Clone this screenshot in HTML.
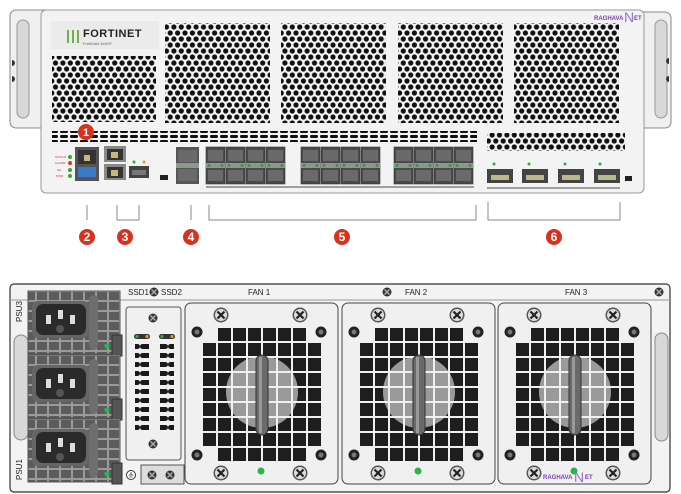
<!DOCTYPE html>
<html><head><meta charset="utf-8"><style>
html,body{margin:0;padding:0;background:#fff;width:681px;height:494px;overflow:hidden}
svg{display:block}
text{font-family:"Liberation Sans",sans-serif}
</style></head><body>
<svg width="681" height="494" viewBox="0 0 681 494" xmlns="http://www.w3.org/2000/svg">
<defs>
<pattern id="hex" width="7.4" height="12" patternUnits="userSpaceOnUse">
<circle cx="3.7" cy="3" r="2.6" fill="#111"/><circle cx="0" cy="9" r="2.6" fill="#111"/><circle cx="7.4" cy="9" r="2.6" fill="#111"/>
</pattern>
<pattern id="dash" width="10" height="5" patternUnits="userSpaceOnUse"><rect x="0" y="0" width="8" height="3" rx="1.2" fill="#111"/></pattern>
<pattern id="sq" x="202" y="327" width="15" height="15" patternUnits="userSpaceOnUse"><rect x="1" y="1" width="13" height="13" fill="#1e1e1e"/></pattern>
<pattern id="sql" x="202" y="327" width="15" height="15" patternUnits="userSpaceOnUse"><rect x="1" y="1" width="13" height="13" fill="#9a9a9a"/></pattern>
<pattern id="psug" width="12" height="10" patternUnits="userSpaceOnUse"><rect width="12" height="10" fill="#9a9a9a"/><rect x="1" y="1" width="10" height="8" fill="#5c5c5c"/></pattern>
<pattern id="slots" width="14" height="9" patternUnits="userSpaceOnUse"><rect x="0" y="2" width="14" height="5" rx="2.5" fill="#1a1a1a"/></pattern>
<g id="bigscrew"><circle r="7.5" fill="#555"/><circle r="6" fill="#ddd"/><path d="M-3.5,-3.5L3.5,3.5M3.5,-3.5L-3.5,3.5" stroke="#222" stroke-width="2.2"/></g>
<g id="smscrew"><circle r="5.5" fill="#222"/><circle r="2.5" fill="#777"/></g>
<g id="tscrew"><circle r="4.5" fill="#333"/><path d="M-2.5,-2.5L2.5,2.5M2.5,-2.5L-2.5,2.5" stroke="#aaa" stroke-width="1.5"/></g>
<g id="fan">
<rect x="185" y="303" width="153" height="181" rx="6" fill="#f0f0f0" stroke="#444" stroke-width="1"/>
<rect x="202" y="342" width="120" height="105" fill="url(#sq)"/>
<rect x="217" y="327" width="90" height="15" fill="url(#sq)"/>
<rect x="217" y="447" width="90" height="15" fill="url(#sq)"/>
<circle cx="262" cy="392" r="36" fill="url(#sql)"/>
<rect x="256" y="355" width="12" height="80" rx="6" fill="#6a6a6a" stroke="#333"/>
<rect x="259" y="357" width="3" height="76" fill="#999"/>
<use href="#bigscrew" x="221" y="315"/><use href="#bigscrew" x="300" y="315"/>
<use href="#bigscrew" x="221" y="473"/><use href="#bigscrew" x="300" y="473"/>
<use href="#smscrew" x="197" y="332"/><use href="#smscrew" x="321" y="332"/>
<use href="#smscrew" x="197" y="455"/><use href="#smscrew" x="321" y="455"/>
<circle cx="261" cy="471" r="3.5" fill="#2db34a"/>
</g>
<g id="psu">
<rect x="28" y="0" width="92" height="63" fill="url(#psug)" stroke="#555"/>
<rect x="32" y="10" width="57" height="37" rx="6" fill="#666"/>
<rect x="36" y="13" width="50" height="31" rx="7" fill="#2a2a2a"/>
<rect x="46" y="24" width="5" height="9" fill="#ddd"/><rect x="58" y="19" width="5" height="9" fill="#ddd"/><rect x="70" y="24" width="5" height="9" fill="#ddd"/>
<circle cx="60" cy="38" r="4" fill="#555"/>
<rect x="89" y="4" width="9" height="55" rx="4.5" fill="#6e6e6e"/>
<rect x="112" y="44" width="10" height="21" fill="#555" stroke="#333"/>
<circle cx="107" cy="55" r="2.5" fill="#2db34a" stroke="#1a6" stroke-width="0.5"/>
</g>
<g id="cage"><rect width="19" height="37" fill="#4a4a4a" stroke="#333" stroke-width="0.6"/><rect x="2" y="3" width="15" height="11" fill="#6a6a6a"/><rect x="2" y="23" width="15" height="11" fill="#6a6a6a"/><rect x="0" y="16" width="19" height="5" fill="#8a9a8a"/><circle cx="3" cy="18.5" r="1.5" fill="#4c8a4c"/><circle cx="16" cy="18.5" r="1.5" fill="#4c8a4c"/></g>
<g id="sfp4"><use href="#cage" x="0"/><use href="#cage" x="20"/><use href="#cage" x="40"/><use href="#cage" x="60"/></g>
<g id="qsfp"><rect width="26" height="14" fill="#444"/><rect x="4" y="6" width="18" height="5" fill="#b8b888"/></g>
</defs>

<!-- TOP UNIT -->
<rect x="10" y="10" width="40" height="118" rx="6" fill="#f0f0f0" stroke="#888"/>
<rect x="17" y="20" width="12" height="98" rx="6" fill="#d8d8d8" stroke="#999"/>
<path d="M12,60 a3,3 0 0 1 0,6z M12,76 a3,3 0 0 1 0,6z" fill="#333"/>
<rect x="636" y="12" width="35" height="116" rx="6" fill="#f0f0f0" stroke="#888"/>
<rect x="655" y="20" width="12" height="98" rx="6" fill="#d8d8d8" stroke="#999"/>
<path d="M669,58 a3,3 0 0 0 0,6z M669,76 a3,3 0 0 0 0,6z" fill="#333"/>
<rect x="41" y="10" width="603" height="183" rx="5" fill="#f3f3f3" stroke="#999"/>
<rect x="51" y="21" width="108" height="28" fill="#ebebeb"/>
<rect x="67" y="30" width="2" height="13" fill="#6bb34a"/><rect x="72" y="30" width="2" height="13" fill="#6bb34a"/><rect x="77" y="30" width="2" height="13" fill="#6bb34a"/>
<text x="83" y="37" font-size="11" font-weight="bold" fill="#222" letter-spacing="0.5">FORTINET</text>
<text x="83" y="45" font-size="4" fill="#666">FortiGate 6x00F</text>
<rect x="52" y="56" width="104" height="66" fill="url(#hex)"/>
<rect x="165" y="23" width="105" height="100" fill="url(#hex)"/>
<rect x="281" y="23" width="105" height="100" fill="url(#hex)"/>
<rect x="398" y="23" width="105" height="100" fill="url(#hex)"/>
<rect x="514" y="23" width="105" height="100" fill="url(#hex)"/>
<rect x="52" y="131" width="425" height="11" fill="url(#dash)"/>
<rect x="487" y="133" width="138" height="18" fill="url(#hex)"/>
<text x="594" y="20" font-size="6" font-weight="bold" fill="#7a3fb5">RAGHAVA</text>
<text x="624" y="22" font-size="14" fill="#9a6fd0">N</text><text x="634" y="20" font-size="6" font-weight="bold" fill="#7a3fb5">ET</text>
<circle cx="86" cy="132" r="8" fill="#d8321f"/><text x="86" y="136" font-size="11" font-weight="bold" fill="#fff" text-anchor="middle">1</text>
<g font-size="3" fill="#c33"><text x="55" y="158">STATUS</text><text x="55" y="164">ALARM</text><text x="57" y="171">HA</text><text x="56" y="177">PWR</text></g>
<circle cx="70" cy="157" r="2" fill="#3a3"/><circle cx="70" cy="163" r="2" fill="#d33"/><circle cx="70" cy="170" r="2" fill="#3a3"/><circle cx="70" cy="176" r="2" fill="#3a3"/>
<rect x="75" y="147" width="24" height="34" fill="#555"/><rect x="78" y="150" width="18" height="14" fill="#333"/><rect x="84" y="155" width="6" height="6" fill="#c8b878"/><rect x="78" y="167" width="18" height="10" fill="#3a78c8"/>
<rect x="104" y="146" width="22" height="16" fill="#888"/><rect x="107" y="149" width="16" height="11" fill="#333"/><rect x="111" y="152" width="7" height="6" fill="#c8b878"/>
<rect x="104" y="164" width="22" height="16" fill="#888"/><rect x="107" y="167" width="16" height="11" fill="#333"/><rect x="111" y="170" width="7" height="6" fill="#c8b878"/>
<circle cx="134" cy="162" r="1.5" fill="#3a3"/><circle cx="144" cy="162" r="1.5" fill="#e0a020"/>
<rect x="129" y="166" width="20" height="12" fill="#444"/><rect x="132" y="170" width="14" height="5" fill="#777"/>
<rect x="160" y="175" width="8" height="5" fill="#222"/>
<rect x="176" y="147" width="23" height="37" fill="#555"/><rect x="178" y="150" width="19" height="12" fill="#6a6a6a"/><rect x="178" y="169" width="19" height="12" fill="#6a6a6a"/><rect x="176" y="163" width="23" height="5" fill="#8a9a8a"/>
<use href="#sfp4" x="206" y="147"/><use href="#sfp4" x="301" y="147"/><use href="#sfp4" x="394" y="147"/>
<line x1="206" y1="187" x2="474" y2="187" stroke="#111" stroke-width="0.7"/>
<circle cx="494" cy="164" r="1.5" fill="#3a3"/><circle cx="529" cy="164" r="1.5" fill="#3a3"/><circle cx="565" cy="164" r="1.5" fill="#3a3"/><circle cx="600" cy="164" r="1.5" fill="#3a3"/>
<use href="#qsfp" x="487" y="169"/><use href="#qsfp" x="522" y="169"/><use href="#qsfp" x="558" y="169"/><use href="#qsfp" x="594" y="169"/>
<line x1="487" y1="188" x2="620" y2="188" stroke="#111" stroke-width="0.7"/>
<rect x="625" y="176" width="7" height="5" fill="#222"/>
<g stroke="#888" fill="none" stroke-width="1">
<path d="M87,205V220"/><path d="M117,205V220H139V205"/><path d="M191,205V220"/><path d="M209,205V220H476V205"/><path d="M488,202V220H620V202"/>
</g>
<g font-size="12" font-weight="bold" fill="#fff" text-anchor="middle">
<circle cx="87" cy="237" r="8" fill="#d8321f"/><text x="87" y="241">2</text>
<circle cx="125" cy="237" r="8" fill="#d8321f"/><text x="125" y="241">3</text>
<circle cx="191" cy="237" r="8" fill="#d8321f"/><text x="191" y="241">4</text>
<circle cx="342" cy="237" r="8" fill="#d8321f"/><text x="342" y="241">5</text>
<circle cx="554" cy="237" r="8" fill="#d8321f"/><text x="554" y="241">6</text>
</g>

<!-- BOTTOM UNIT -->
<rect x="10" y="284" width="660" height="208" rx="4" fill="#f3f3f3" stroke="#333" stroke-width="1.2"/>
<line x1="10" y1="300" x2="670" y2="300" stroke="#999"/>
<rect x="14" y="335" width="14" height="105" rx="7" fill="#d8d8d8" stroke="#888"/>
<rect x="655" y="333" width="13" height="108" rx="6.5" fill="#d8d8d8" stroke="#888"/>
<use href="#psu" y="291"/><use href="#psu" y="355"/><use href="#psu" y="419"/>
<text transform="translate(22,322) rotate(-90)" font-size="8" fill="#222">PSU3</text>
<text transform="translate(22,480) rotate(-90)" font-size="8" fill="#222">PSU1</text>
<text x="128" y="295" font-size="8" fill="#222">SSD1</text><use href="#tscrew" x="154" y="292"/><text x="161" y="295" font-size="8" fill="#222">SSD2</text>
<text x="248" y="295" font-size="8" fill="#222">FAN 1</text>
<text x="405" y="295" font-size="8" fill="#222">FAN 2</text>
<text x="565" y="295" font-size="8" fill="#222">FAN 3</text>
<use href="#tscrew" x="387" y="292"/><use href="#tscrew" x="659" y="292"/>
<rect x="126" y="307" width="55" height="153" rx="3" fill="#f0f0f0" stroke="#555"/>
<use href="#tscrew" x="153" y="318"/><use href="#tscrew" x="153" y="444"/>
<rect x="134" y="334" width="16" height="5" rx="2.5" fill="#333"/><circle cx="137" cy="336.5" r="1.6" fill="#3a3"/><circle cx="147" cy="336.5" r="1.6" fill="#e0a020"/>
<rect x="159" y="334" width="16" height="5" rx="2.5" fill="#333"/><circle cx="162" cy="336.5" r="1.6" fill="#3a3"/><circle cx="172" cy="336.5" r="1.6" fill="#e0a020"/>
<rect x="135" y="342" width="14" height="90" fill="url(#slots)"/>
<rect x="160" y="342" width="14" height="90" fill="url(#slots)"/>
<circle cx="131" cy="475" r="4.5" fill="#fff" stroke="#333"/><path d="M131,472v3M128.5,475h5M129.5,477h3" stroke="#333" stroke-width="0.8"/>
<rect x="141" y="465" width="43" height="19" fill="#ddd" stroke="#555"/>
<use href="#tscrew" x="152" y="475"/><use href="#tscrew" x="170" y="475"/>
<use href="#fan"/>
<use href="#fan" x="157"/>
<use href="#fan" x="313"/>
<text x="543" y="479" font-size="6" font-weight="bold" fill="#7a3fb5">RAGHAVA</text>
<text x="574" y="482" font-size="14" fill="#9a6fd0">N</text><text x="585" y="479" font-size="6" font-weight="bold" fill="#7a3fb5">ET</text>
</svg>
</body></html>
